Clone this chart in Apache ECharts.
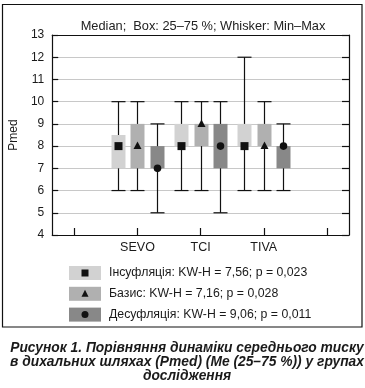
<!DOCTYPE html>
<html>
<head>
<meta charset="utf-8">
<script src="https://cdn.jsdelivr.net/npm/echarts@6/dist/echarts.min.js"></script>
<style>
html,body{margin:0;padding:0;background:#fff;}
#chart{width:365px;height:388px;}
</style>
</head>
<body>
<div id="chart"></div>
<script>
// ---- data ----
const categories = ['SEVO', 'TCI', 'TIVA'];
const yTicks = [4, 5, 6, 7, 8, 9, 10, 11, 12, 13];

const insMin = [6, 6, 6];
const insQ1 = [7, 8, 8];
const insMed = [8, 8, 8];
const insQ3 = [8.5, 9, 9];
const insMax = [10, 10, 12];

const basMin = [6, 6, 6];
const basQ1 = [7, 8, 8];
const basMed = [8, 9, 8];
const basQ3 = [9, 9, 9];
const basMax = [10, 10, 10];

const desMin = [5, 5, 6];
const desQ1 = [7, 7, 7];
const desMed = [7, 8, 8];
const desQ3 = [8, 9, 8];
const desMax = [9, 10, 9];

const seriesNames = ['Інсуфляція', 'Базис', 'Десуфляція'];
const legendLabels = [
  'Інсуфляція: KW-H = 7,56; p = 0,023',
  'Базис: KW-H = 7,16; p = 0,028',
  'Десуфляція: KW-H = 9,06; p = 0,011'
];
const titleText = 'Median;  Box: 25–75 %; Whisker: Min–Max';
const yName = 'Pmed';
const captionText = 'Рисунок 1. Порівняння динаміки середнього тиску\nв дихальних шляхах (Pmed) (Me (25–75 %)) у групах\nдослідження';

// ---- styles ----
const boxColors = ['#d2d2d2', '#b0b0b0', '#888888'];
const offsets = [-19.5, 0, 19.5];
const boxW = 14;
const FONT = '"Liberation Sans", Arial, sans-serif';

const groups = [
  [insMin, insQ1, insMed, insQ3, insMax],
  [basMin, basQ1, basMed, basQ3, basMax],
  [desMin, desQ1, desMed, desQ3, desMax]
];

const series = [];
groups.forEach((g, k) => {
  const data = categories.map((c, i) => [i + 1, g[0][i], g[1][i], g[3][i], g[4][i]]);
  series.push({
    type: 'custom',
    name: seriesNames[k],
    z: 3,
    data: data,
    renderItem: function (params, api) {
      const x = api.value(0);
      const pMin = api.coord([x, api.value(1)]);
      const pQ1 = api.coord([x, api.value(2)]);
      const pQ3 = api.coord([x, api.value(3)]);
      const pMax = api.coord([x, api.value(4)]);
      const cx = Math.round(pMin[0] + offsets[k]) + 0.5;
      const lineStyle = { stroke: '#111', lineWidth: 1.2 };
      return {
        type: 'group',
        children: [
          { type: 'line', shape: { x1: cx, y1: pMin[1], x2: cx, y2: pMax[1] }, style: lineStyle },
          { type: 'line', shape: { x1: cx - boxW / 2, y1: pMin[1], x2: cx + boxW / 2, y2: pMin[1] }, style: lineStyle },
          { type: 'line', shape: { x1: cx - boxW / 2, y1: pMax[1], x2: cx + boxW / 2, y2: pMax[1] }, style: lineStyle },
          { type: 'rect', shape: { x: cx - boxW / 2, y: pQ3[1], width: boxW, height: pQ1[1] - pQ3[1] }, style: { fill: boxColors[k] } }
        ]
      };
    }
  });
  const medData = categories.map((c, i) => [i + 1, g[2][i]]);
  series.push({
    type: 'custom',
    name: seriesNames[k] + ' median',
    z: 4,
    data: medData,
    renderItem: function (params, api) {
      const p = api.coord([api.value(0), api.value(1)]);
      const cx = Math.round(p[0] + offsets[k]) + 0.5;
      if (k === 0) {
        return { type: 'rect', shape: { x: cx - 4, y: p[1] - 4, width: 8, height: 8 }, style: { fill: '#111' } };
      } else if (k === 1) {
        return { type: 'polygon', shape: { points: [[cx, p[1] - 4.5], [cx - 4, p[1] + 3], [cx + 4, p[1] + 3]] }, style: { fill: '#111' } };
      }
      return { type: 'circle', shape: { cx: cx, cy: p[1], r: 3.8 }, style: { fill: '#111' } };
    }
  });
});

// frame + legend graphics
const graphics = [];
graphics.push({
  type: 'rect', shape: { x: 2.5, y: 4.5, width: 359.5, height: 322.5 },
  style: { fill: null, stroke: '#111', lineWidth: 1.2 }, silent: true, z: 100
});
const legTop = 266;
const legStep = 20.8;
legendLabels.forEach((t, k) => {
  const y = legTop + k * legStep;
  graphics.push({ type: 'rect', shape: { x: 69, y: y, width: 32, height: 14 }, style: { fill: boxColors[k] }, z: 100 });
  const cx = 85, cy = y + 7;
  if (k === 0) graphics.push({ type: 'rect', shape: { x: cx - 3.5, y: cy - 3.5, width: 7, height: 7 }, style: { fill: '#111' }, z: 101 });
  if (k === 1) graphics.push({ type: 'polygon', shape: { points: [[cx, cy - 4], [cx - 3.5, cy + 3], [cx + 3.5, cy + 3]] }, style: { fill: '#111' }, z: 101 });
  if (k === 2) graphics.push({ type: 'circle', shape: { cx: cx, cy: cy, r: 3.5 }, style: { fill: '#111' }, z: 101 });
  graphics.push({
    type: 'text', x: 109, y: cy,
    style: { text: t, fill: '#1a1a1a', font: '12.3px ' + FONT, textVerticalAlign: 'middle', textAlign: 'left' }, z: 101
  });
});

const chart = echarts.init(document.getElementById('chart'), null, { renderer: 'canvas' });
chart.setOption({
  animation: false,
  backgroundColor: '#fff',
  title: [
    {
      text: titleText, left: 198, top: 15, textAlign: 'center',
      textStyle: { fontFamily: FONT, fontSize: 12.8, fontWeight: 'normal', color: '#222' }
    },
    {
      text: captionText, left: 182, top: 336, textAlign: 'center',
      textStyle: { fontFamily: FONT, fontSize: 13.8, fontWeight: 'bold', fontStyle: 'italic', color: '#1a1a1a', lineHeight: 14.2 }
    }
  ],
  grid: { left: 46.5, right: 16, top: 35, bottom: 153, containLabel: false },
  xAxis: [
    {
      type: 'value', min: -0.35, max: 4.35, position: 'bottom',
      axisLine: { show: true, onZero: false, lineStyle: { color: '#111', width: 1.2 } },
      axisTick: { show: true, inside: true, length: 7, customValues: [0, 1, 2, 3, 4], lineStyle: { color: '#111', width: 1.2 } },
      axisLabel: {
        show: true, customValues: [1, 2, 3], margin: 6,
        formatter: function (v) { return categories[Math.round(v) - 1] || ''; },
        fontFamily: FONT, fontSize: 12.5, color: '#1a1a1a'
      },
      splitLine: { show: false }
    },
    {
      type: 'value', min: -0.35, max: 4.35, position: 'top',
      axisLine: { show: true, onZero: false, lineStyle: { color: '#111', width: 1.2 } },
      axisTick: { show: false }, axisLabel: { show: false }, splitLine: { show: false }
    }
  ],
  yAxis: [
    {
      type: 'value', min: yTicks[0], max: yTicks[yTicks.length - 1], interval: 1, position: 'left',
      name: yName, nameLocation: 'middle', nameGap: 29,
      nameTextStyle: { fontFamily: FONT, fontSize: 12, color: '#1a1a1a' },
      axisLine: { show: true, onZero: false, lineStyle: { color: '#111', width: 1.2 } },
      axisTick: { show: true, inside: true, length: 6, lineStyle: { color: '#111', width: 1.2 } },
      axisLabel: { margin: 8, fontFamily: FONT, fontSize: 12, color: '#1a1a1a' },
      splitLine: { show: true, lineStyle: { color: '#c8c8c8', width: 1 } }
    },
    {
      type: 'value', min: yTicks[0], max: yTicks[yTicks.length - 1], interval: 1, position: 'right',
      axisLine: { show: true, onZero: false, lineStyle: { color: '#111', width: 1.2 } },
      axisTick: { show: true, inside: true, length: 7, lineStyle: { color: '#111', width: 1.2 } },
      axisLabel: { show: false }, splitLine: { show: false }
    }
  ],
  series: series,
  graphic: graphics
});
</script>
</body>
</html>
